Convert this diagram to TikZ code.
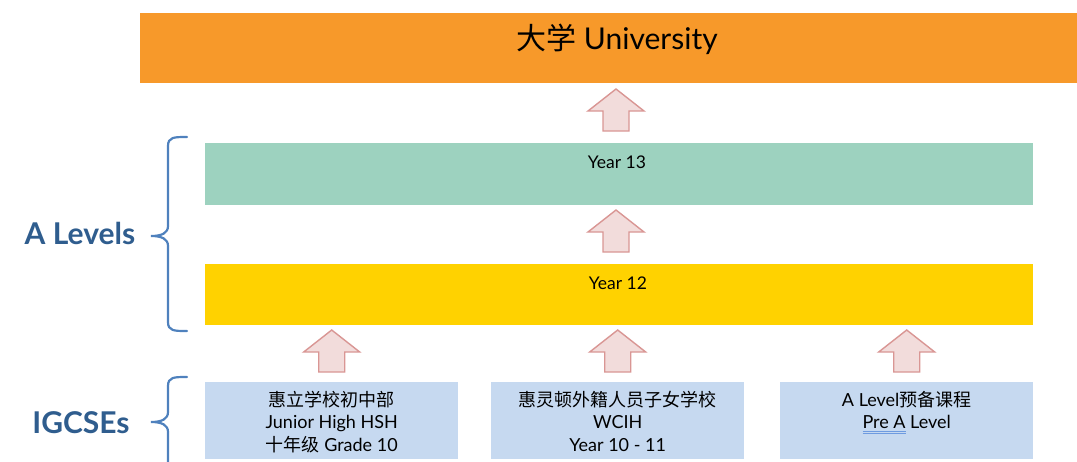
\documentclass[tikz,border=0pt]{standalone}
\usepackage{fontspec}
\setmainfont{Lato}
\newfontfamily\cjk{Noto Sans CJK SC}
\usetikzlibrary{calc}
\definecolor{uniorange}{HTML}{F7992A}
\definecolor{ygreen}{HTML}{9DD2BF}
\definecolor{yyellow}{HTML}{FFD200}
\definecolor{igblue}{HTML}{C6D9F0}
\definecolor{arrfill}{HTML}{F2DCDB}
\definecolor{arrline}{HTML}{D99694}
\definecolor{bracecol}{HTML}{4F81BD}
\definecolor{labelcol}{HTML}{2F5D8E}
\definecolor{ulblue}{HTML}{6E9BE0}
\newcommand\spellmark[1]{\setbox0=\hbox{#1}\rlap{\color{ulblue}\rule[-3.2pt]{\wd0}{0.6pt}}\rlap{\color{ulblue}\rule[-5.2pt]{\wd0}{0.6pt}}\box0\relax}
\begin{document}
\begin{tikzpicture}[x=1pt,y=-1pt,
  box/.style={inner sep=0pt, anchor=north west},
  boxtext/.style={anchor=base, inner sep=0pt, font=\fontsize{18}{22.5}\selectfont},
  yeartext/.style={anchor=base, inner sep=0pt, font=\fontsize{17.5}{20}\selectfont},
  grouplabel/.style={anchor=base, inner sep=0pt, text=labelcol, font=\fontsize{30}{32}\selectfont\bfseries},
  bracestyle/.style={draw=bracecol, line width=2.2pt, line cap=round},
  pics/blockup/.style={code={
    \draw[draw=arrline, fill=arrfill, line width=1.4pt, line join=miter]
      (-13,20) -- (-13,0) -- (-28,0) -- (0,-22) -- (28,0) -- (13,0) -- (13,20) -- cycle;}}
]
\useasboundingbox (0,0) rectangle (1077,461);
\clip (0,0) rectangle (1077,461);

% boxes
\node[box, fill=uniorange, minimum width=937, minimum height=70] (uni) at (140,13) {};
\node[box, fill=ygreen, minimum width=828, minimum height=62] (y13) at (205,143) {};
\node[box, fill=yyellow, minimum width=828, minimum height=61] (y12) at (205,264) {};
\node[box, fill=igblue, minimum width=253, minimum height=77] (b1) at (205,382) {};
\node[box, fill=igblue, minimum width=253, minimum height=77] (b2) at (491,382) {};
\node[box, fill=igblue, minimum width=253, minimum height=77] (b3) at (780,382) {};

% texts
\node[anchor=base, inner sep=0pt, font=\fontsize{30}{32}\selectfont] (unit) at (617,49) {{\cjk 大学} University};
\node[yeartext] (y13t) at (617,168) {Year 13};
\node[yeartext] (y12t) at (618,289) {Year 12};
\node[boxtext] (b1t) at ($(b1.north)+(0,24)$) {\begin{tabular}[t]{@{}c@{}}{\cjk 惠立学校初中部}\\Junior High HSH\\{\cjk 十年级} Grade 10\end{tabular}};
\node[boxtext] (b2t) at ($(b2.north)+(0,24)$) {\begin{tabular}[t]{@{}c@{}}{\cjk 惠灵顿外籍人员子女学校}\\WCIH\\Year 10 - 11\end{tabular}};
\node[boxtext] (b3t) at ($(b3.north)+(0,24)$) {\begin{tabular}[t]{@{}c@{}}A Level{\cjk 预备课程}\\\spellmark{Pre A} Level\end{tabular}};

% block arrows
\pic (a1) at (616,111) {blockup};
\pic (a2) at (616,232) {blockup};
\pic (a3) at ($(b1.north)+(0,-30)$) {blockup};
\pic (a4) at ($(b2.north)+(0,-30)$) {blockup};
\pic (a5) at ($(b3.north)+(0,-30)$) {blockup};

% braces
\draw[bracestyle] (187,137) .. controls (174,137) and (168,137) .. (168,146)
  -- (168,226) .. controls (168,233) and (162,236) .. (151,236)
  .. controls (162,236) and (168,239) .. (168,246)
  -- (168,322) .. controls (168,331) and (174,331) .. (187,331);
\draw[bracestyle] (187,377) .. controls (174,377) and (168,377) .. (168,386)
  -- (168,412) .. controls (168,419) and (162,422) .. (151,422)
  .. controls (162,422) and (168,425) .. (168,432)
  -- (168,470);

\node[grouplabel] (alv) at (80,244) {A Levels};
\node[grouplabel] (igc) at (81,433) {IGCSEs};
\end{tikzpicture}
\end{document}
